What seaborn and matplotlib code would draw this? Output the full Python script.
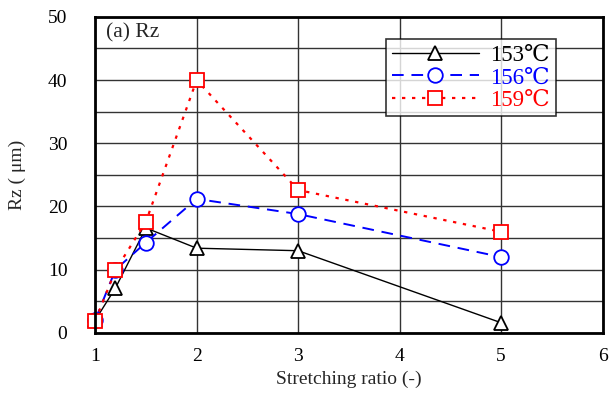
import pandas as pd
import matplotlib.pyplot as plt
import seaborn as sns

# данные
ratio = [1, 1.2, 1.5, 2, 3, 5]
rz_153 = [2.0, 7.1, 16.6, 13.4, 13.0, 1.6]
rz_156 = [2.0, 10.0, 14.3, 21.2, 18.8, 12.0]
rz_159 = [1.9, 9.9, 17.6, 40.0, 22.6, 16.0]
labels = ["153\u2103", "156\u2103", "159\u2103"]

sns.set_theme(style="white")
plt.rcParams["font.family"] = ["Liberation Serif", "DejaVu Serif"]

fig = plt.figure(figsize=(6.1, 3.93), dpi=100)
ax = fig.add_axes([0.156, 0.153, 0.832, 0.804])

series = [
    (rz_153, labels[0], "black", "-", "^", 1.0),
    (rz_156, labels[1], "blue", (0, (6, 4)), "o", 1.4),
    (rz_159, labels[2], "red", (0, (1.5, 3)), "s", 1.6),
]
for vals, lab, col, ls, mk, lw in series:
    df = pd.DataFrame({"ratio": ratio, "rz": vals})
    sns.lineplot(data=df, x="ratio", y="rz", ax=ax, color=col, linestyle=ls,
                 linewidth=lw, marker=mk, markersize=10.5, markerfacecolor="white",
                 markeredgecolor=col, markeredgewidth=1.3, label=lab, clip_on=False)

ax.set_xlim(1, 6)
ax.set_ylim(0, 50)
ax.set_xticks(range(1, 7))
ax.set_yticks(range(0, 51, 10))
ax.set_yticks(range(0, 51, 5), minor=True)
ax.grid(True, which="both", color="#333333", linewidth=1.0)
ax.set_axisbelow(True)
for s in ax.spines.values():
    s.set_color("black")
    s.set_linewidth(2)
ax.tick_params(axis="both", which="both", length=0, labelsize=14, colors="black")
ax.tick_params(axis="x", pad=11)
ax.tick_params(axis="y", pad=20)
ax.set_xlabel("Stretching ratio (-)", fontsize=14, labelpad=4)
ax.set_ylabel("Rz ( \u03bcm)", fontsize=14, labelpad=16)
ax.text(0.022, 0.98, "(a) Rz", transform=ax.transAxes, fontsize=15.5, va="top", ha="left")

leg = ax.legend(loc="upper right", bbox_to_anchor=(0.93, 0.965), fontsize=16.5,
                frameon=True, fancybox=False, edgecolor="black", handlelength=3.8,
                borderpad=0.25, labelspacing=0.05, handletextpad=0.5)
leg.get_frame().set_linewidth(1.2)
for t, c in zip(leg.get_texts(), ["black", "blue", "red"]):
    t.set_color(c)

fig.savefig("out.png", dpi=100)
